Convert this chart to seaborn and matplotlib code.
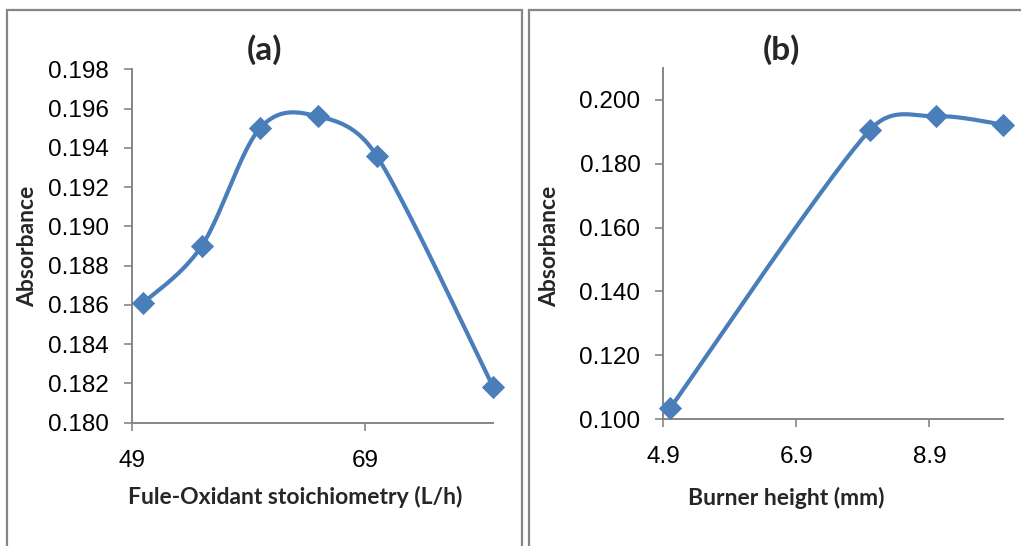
import numpy as np
import pandas as pd
import matplotlib
matplotlib.use("Agg")
import matplotlib.pyplot as plt
import seaborn as sns
from matplotlib.patches import Rectangle

# ---- data ----
fuel_oxidant = [50, 55, 60, 65, 70, 80]
absorb_a = [0.1861, 0.1890, 0.1950, 0.1956, 0.1936, 0.1818]
burner_height = [5.0, 8.0, 9.0, 10.0]
absorb_b = [0.1034, 0.1904, 0.1948, 0.1922]

xticks_a = [49, 69]
yticks_a = [0.180, 0.182, 0.184, 0.186, 0.188, 0.190, 0.192, 0.194, 0.196, 0.198]
xticks_b = [4.9, 6.9, 8.9]
yticks_b = [0.100, 0.120, 0.140, 0.160, 0.180, 0.200]

sns.set_theme(style="white")
plt.rcParams['font.family'] = ['Liberation Sans', 'DejaVu Sans']

W, H = 1021, 546
fig = plt.figure(figsize=(W / 100, H / 100), dpi=100)
fig.patch.set_facecolor("white")

LINE = "#4A7EBB"
GRAY = "#868686"
BOLD = ['Lato', 'DejaVu Sans']


def smooth(xs, ys, kx, ky, n=60):
    """Spreadsheet-style smoothed line: Bezier segments with Catmull-Rom
    control points, tension reduced where neighbouring spans are long
    (distances measured in pixel space via kx, ky)."""
    P = np.column_stack([xs, ys]).astype(float)
    k = np.array([kx, ky])
    m = len(P)

    def d(a, b):
        return np.hypot(*((a - b) * k))

    out = []
    for i in range(m - 1):
        p0 = P[i - 1] if i > 0 else P[i]
        p1 = P[i]
        p2 = P[i + 1]
        p3 = P[i + 2] if i + 2 < m else P[i + 1]
        d12 = d(p1, p2)
        d02 = d(p0, p2)
        d13 = d(p1, p3)
        f0 = 1 / 6.0
        f1 = 1 / 6.0
        if d02 / 6.0 >= d12 / 2.0 and d02 > 0:
            f0 = d12 / d02 / 2.0
        if d13 / 6.0 >= d12 / 2.0 and d13 > 0:
            f1 = d12 / d13 / 2.0
        c1 = p1 + f0 * (p2 - p0)
        c2 = p2 - f1 * (p3 - p1)
        t = np.linspace(0, 1, n)[:, None]
        seg = ((1 - t) ** 3) * p1 + 3 * ((1 - t) ** 2) * t * c1 + 3 * (1 - t) * t ** 2 * c2 + t ** 3 * p2
        out.append(seg if i == 0 else seg[1:])
    S = np.vstack(out)
    return S[:, 0], S[:, 1]


def frac(px_left, px_top, px_right, px_bottom):
    return [px_left / W, 1 - px_bottom / H, (px_right - px_left) / W, (px_bottom - px_top) / H]


def panel(box, xs, ys, xlim, ylim, xticks, yticks, yfmt, xfmt, xlabel, ylab_x, xlab_y):
    ax = fig.add_axes(frac(*box))
    kx = (box[2] - box[0]) / (xlim[1] - xlim[0])
    ky = (box[3] - box[1]) / (ylim[1] - ylim[0])
    sx, sy = smooth(xs, ys, kx, ky)
    df_line = pd.DataFrame({"x": sx, "y": sy})
    sns.lineplot(data=df_line, x="x", y="y", sort=False, estimator=None,
                 color=LINE, linewidth=3.0, ax=ax, clip_on=False)
    df_pts = pd.DataFrame({"x": xs, "y": ys})
    sns.scatterplot(data=df_pts, x="x", y="y", marker="D", s=140, color=LINE,
                    edgecolor=LINE, linewidth=0, ax=ax, clip_on=False, zorder=5)
    ax.set_xlim(*xlim)
    ax.set_ylim(*ylim)
    ax.set_xticks(xticks)
    ax.set_yticks(yticks)
    ax.set_xticklabels([xfmt.format(v) for v in xticks])
    ax.set_yticklabels([yfmt.format(v) for v in yticks])
    for s in ["top", "right"]:
        ax.spines[s].set_visible(False)
    for s in ["left", "bottom"]:
        ax.spines[s].set_color(GRAY)
        ax.spines[s].set_linewidth(1.4)
    ax.tick_params(axis="both", which="major", direction="out", length=5.5,
                   width=1.2, color=GRAY, labelsize=17.5, labelcolor="black",
                   left=True, bottom=True)
    ax.tick_params(axis="y", pad=11)
    ax.tick_params(axis="x", pad=14)
    ax.set_xlabel(xlabel, fontsize=16.5, fontweight="bold", family=BOLD, va="center")
    ax.set_ylabel("Absorbance", fontsize=16.5, fontweight="bold", family=BOLD, va="center")
    ax.xaxis.set_label_coords(((box[0] + box[2]) / 2 + (xlab_y[1])) / W, 1 - xlab_y[0] / H,
                              transform=fig.transFigure)
    ax.yaxis.set_label_coords(ylab_x / W, 1 - 246 / H, transform=fig.transFigure)
    ax.set_facecolor("white")
    ax.grid(False)
    return ax


ax1 = panel((131.7, 69.3, 493.3, 422.7), fuel_oxidant, absorb_a, (49, 80), (0.180, 0.198),
            xticks_a, yticks_a, "{:.3f}", "{:g}", "Fule-Oxidant stoichiometry (L/h)", 28, (497, -17.5))
ax2 = panel((663.3, 67.7, 1002.7, 419.3), burner_height, absorb_b, (4.9, 10.0), (0.100, 0.210),
            xticks_b, yticks_b, "{:.3f}", "{:.1f}", "Burner height (mm)", 550, (498, -46.3))

fig.text(265 / W, 1 - 50 / H, "(a)", ha="center", va="center", fontsize=24,
         fontweight="bold", family=BOLD)
fig.text(781.7 / W, 1 - 50 / H, "(b)", ha="center", va="center", fontsize=24,
         fontweight="bold", family=BOLD)

# panel frames
fig.add_artist(Rectangle((7 / W, -0.1), (522 - 7) / W, 1.1 - 10 / H,
                         transform=fig.transFigure, fill=False, edgecolor=GRAY, linewidth=1.6))
fig.add_artist(Rectangle((529 / W, -0.1), 0.6, 1.1 - 10 / H,
                         transform=fig.transFigure, fill=False, edgecolor=GRAY, linewidth=1.6))

fig.savefig("out.png", dpi=100, facecolor="white")
